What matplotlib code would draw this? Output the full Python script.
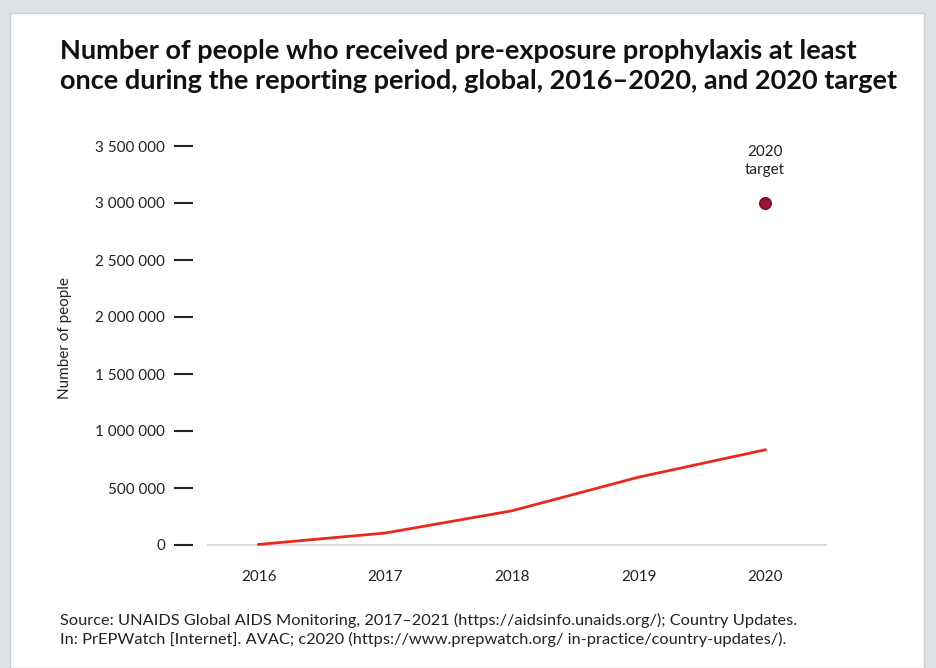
import numpy as np
import matplotlib.pyplot as plt
from matplotlib.patches import Rectangle
from matplotlib.ticker import FuncFormatter

# data
years = [2016, 2017, 2018, 2019, 2020]
people = [5000, 105000, 300000, 595000, 835000]
target_year = 2020
target_value = 3000000

plt.rcParams['font.family'] = ['Lato', 'DejaVu Sans']

fig = plt.figure(figsize=(9.36, 6.68), dpi=100)
fig.patch.set_facecolor('#dfe2e7')
# white card behind everything
fig.patches.append(Rectangle((10 / 936, 0), 914 / 936, 655 / 668,
                             transform=fig.transFigure, facecolor='white',
                             edgecolor='#c9ccd2', lw=1, zorder=-5))

ax = fig.add_axes([208 / 936, 123 / 668, 618 / 936, 399 / 668])
ax.set_facecolor('none')

ax.plot(years, people, color='#e8291c', lw=2, clip_on=False, zorder=3)
ax.scatter([target_year], [target_value], s=70, color='#9b1534',
           edgecolor='#7a0f28', lw=1, zorder=4)
ax.text(target_year, target_value + 230000, '2020\ntarget', ha='center',
        va='bottom', fontsize=11, linespacing=1.3, color='#222222')

ax.set_xlim(2015.6, 2020.48)
ax.set_ylim(0, 3500000)
ax.set_yticks(np.arange(0, 3500001, 500000))
ax.set_xticks(years)
ax.yaxis.set_major_formatter(FuncFormatter(lambda v, p: f'{int(v):,}'.replace(',', ' ')))

for s in ['top', 'right']:
    ax.spines[s].set_visible(False)
ax.spines['left'].set_position(('outward', 11))
ax.spines['left'].set_visible(False)
ax.spines['bottom'].set_color('#dcdcdc')
ax.spines['bottom'].set_linewidth(1.5)

ax.tick_params(axis='y', direction='out', length=14, width=1.5, color='#222222',
               pad=6, labelsize=11, labelcolor='#222222')
ax.tick_params(axis='x', length=0, pad=18, labelsize=11, labelcolor='#222222')

fig.text(65 / 936, 330 / 668, 'Number of people', rotation=90, ha='center',
         va='center', fontsize=11, color='#222222')

fig.text(60 / 936, 1 - 66 / 668,
         'Number of people who received pre-exposure prophylaxis at least\n'
         'once during the reporting period, global, 2016\u20132020, and 2020 target',
         ha='left', va='center', fontsize=19.5, fontweight='bold',
         linespacing=1.3, color='#111111')

fig.text(60 / 936, 1 - 630 / 668,
         'Source: UNAIDS Global AIDS Monitoring, 2017\u20132021 (https://aidsinfo.unaids.org/); Country Updates.\n'
         'In: PrEPWatch [Internet]. AVAC; c2020 (https://www.prepwatch.org/ in-practice/country-updates/).',
         ha='left', va='center', fontsize=11.8, linespacing=1.3, color='#222222')

fig.savefig('out.png', dpi=100, facecolor=fig.get_facecolor())
